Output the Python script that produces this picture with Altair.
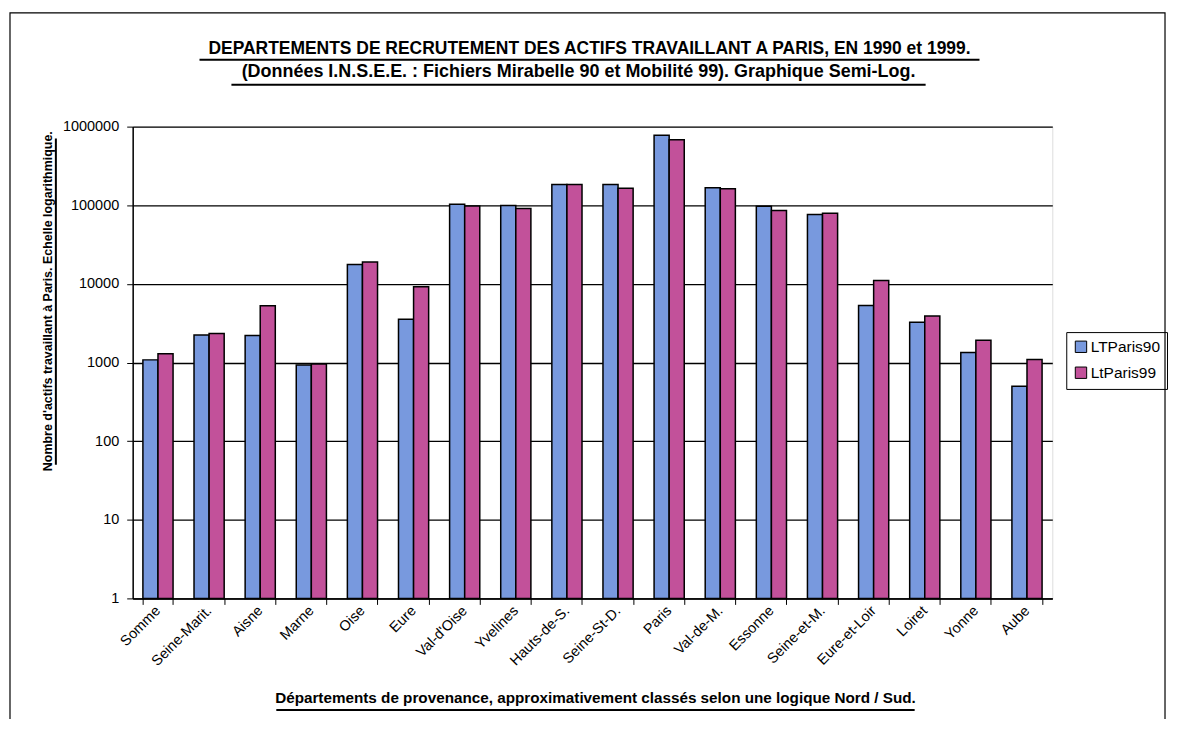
import altair as alt
import pandas as pd

categories = ["Somme", "Seine-Marit.", "Aisne", "Marne", "Oise", "Eure", "Val-d'Oise",
              "Yvelines", "Hauts-de-S.", "Seine-St-D.", "Paris", "Val-de-M.", "Essonne",
              "Seine-et-M.", "Eure-et-Loir", "Loiret", "Yonne", "Aube"]
lt_paris_90 = [1080, 2240, 2200, 930, 17600, 3540, 103000, 99000, 183000, 183000,
               774000, 167000, 97000, 76000, 5300, 3260, 1340, 500]
lt_paris_99 = [1290, 2330, 5270, 960, 19000, 9200, 98000, 91000, 183000, 164000,
               683000, 162000, 86000, 79000, 11000, 3890, 1920, 1090]
series_names = ["LTParis90", "LtParis99"]
series_colors = ["#7899DE", "#C2519A"]
y_ticks = [1, 10, 100, 1000, 10000, 100000, 1000000]
y_min, y_max = 1, 1000000

title_1 = "DEPARTEMENTS DE RECRUTEMENT DES ACTIFS TRAVAILLANT A PARIS, EN 1990 et 1999."
title_2 = "(Données I.N.S.E.E. : Fichiers Mirabelle 90 et Mobilité 99). Graphique Semi-Log."
x_title = "Départements de provenance, approximativement classés selon une logique Nord / Sud."
y_title = "Nombre d'actifs travaillant à Paris. Echelle logarithmique."

rows = []
for c, a, b in zip(categories, lt_paris_90, lt_paris_99):
    rows.append({"dep": c, "serie": series_names[0], "val": a, "base": y_min})
    rows.append({"dep": c, "serie": series_names[1], "val": b, "base": y_min})
df = pd.DataFrame(rows)

W, H = 922, 473
FONT = "Liberation Sans"

bars = alt.Chart(df).mark_bar(stroke="black", strokeWidth=1.5).encode(
    x=alt.X("dep:N", sort=categories,
            scale=alt.Scale(paddingInner=0.41, paddingOuter=0.2),
            axis=alt.Axis(title=None, labelAngle=-45, labelAlign="right",
                          labelBaseline="middle", labelPadding=4, labelFontSize=14.5,
                          labelFont=FONT, labelColor="black", tickBand="extent",
                          tickSize=6, tickColor="black", domainColor="black",
                          domainWidth=1.5, grid=False, labelOverlap=False)),
    xOffset=alt.XOffset("serie:N", sort=series_names),
    y=alt.Y("val:Q",
            scale=alt.Scale(type="log", domain=[y_min, y_max]),
            axis=alt.Axis(title=None, values=y_ticks, format="d", labelFontSize=14.5,
                          labelFont=FONT, labelColor="black", tickSize=6,
                          tickColor="black", domainColor="black", domainWidth=1.5,
                          labelPadding=8, grid=True, gridColor="black",
                          gridWidth=1.3, gridOpacity=1)),
    y2=alt.Y2("base:Q"),
    color=alt.Color("serie:N", sort=series_names,
                    scale=alt.Scale(domain=series_names, range=series_colors),
                    legend=alt.Legend(title=None, orient="none", legendX=936,
                                      legendY=206, strokeColor="black",
                                      padding=7, labelFontSize=15.5, labelFont=FONT,
                                      labelColor="black", symbolType="square",
                                      symbolSize=130, symbolStrokeColor="black",
                                      symbolStrokeWidth=1, rowPadding=9,
                                      labelOffset=2, symbolOpacity=1)),
)

one = pd.DataFrame({"k": [0]})


def text_layer(txt, x, y, size, angle=0, weight="bold"):
    return alt.Chart(one).mark_text(
        text=txt, fontSize=size, fontWeight=weight, font=FONT, color="black",
        align="center", baseline="alphabetic", angle=angle
    ).encode(x=alt.value(x), y=alt.value(y))


def hline(x1, x2, y, w=2):
    return alt.Chart(one).mark_rule(color="black", strokeWidth=w).encode(
        x=alt.value(x1), x2=alt.value(x2), y=alt.value(y))


def vline(x, y1, y2, w=2):
    return alt.Chart(one).mark_rule(color="black", strokeWidth=w).encode(
        x=alt.value(x), y=alt.value(y1), y2=alt.value(y2))


frame = alt.Chart(one).mark_rect(fill=None, stroke="black", strokeWidth=1.2).encode(
    x=alt.value(-123), x2=alt.value(1035), y=alt.value(-114), y2=alt.value(620))

layers = [
    frame,
    bars,
    text_layer(title_1, 458, -73, 17.5),
    hline(67, 849, -67),
    text_layer(title_2, 447, -50, 18),
    hline(99, 795, -42),
    text_layer(x_title, 464, 578, 15.3),
    hline(144, 784, 585),
    text_layer(y_title, -81, 175, 12.5, angle=270),
    vline(-77, 12, 339),
]

chart = alt.layer(*layers).properties(
    width=W, height=H,
    autosize=alt.AutoSizeParams(type="none"),
    padding={"left": 125, "top": 118, "right": 117, "bottom": 120},
).configure_view(stroke="black", strokeWidth=1.2).configure(background="white")

chart.save("out.html", embed_options={"renderer": "svg", "actions": False})
